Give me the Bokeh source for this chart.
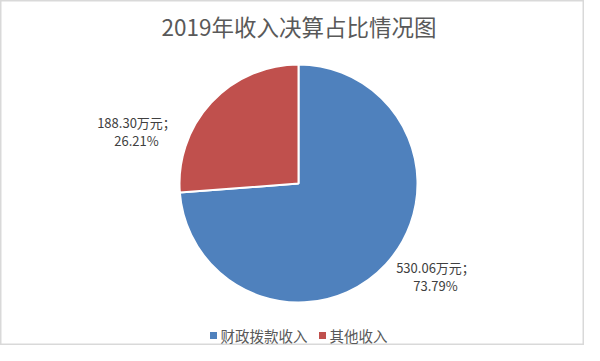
import math
from bokeh.plotting import figure
from bokeh.models import Range1d, ColumnDataSource
from bokeh.core.properties import value
from bokeh.embed import file_html
from bokeh.resources import INLINE

# ---- data ----
title_text = "2019年收入决算占比情况图"
categories = ["财政拨款收入", "其他收入"]
amounts = [530.06, 188.30]
percents = [73.79, 26.21]
unit = "万元；"

# ---- style / layout (pixel positions measured from the top-left) ----
colors = ["#4F81BD", "#C0504D"]
W, H = 584, 345
FONT = "Noto Sans CJK SC"
pie_cx, pie_cy, R = 298, 183, 119
label_pos = [(435, 267), (136, 122)]   # first text line of each slice label
line_gap = 18
legend_y = 335
legend_x = [210, 319]


def fy(y):
    return H - y


p = figure(width=W, height=H, output_backend="svg", toolbar_location=None,
           x_range=Range1d(0, W), y_range=Range1d(0, H), min_border=0)
p.axis.visible = False
p.grid.visible = False
p.outline_line_color = "#D9D9D9"
p.outline_line_width = 2
p.background_fill_color = "white"
p.border_fill_color = "white"

total = sum(amounts)
starts, ends = [], []
a = math.pi / 2
for v in amounts:
    starts.append(a)
    a -= 2 * math.pi * v / total
    ends.append(a)

src = ColumnDataSource(dict(x=[pie_cx] * len(amounts), y=[fy(pie_cy)] * len(amounts),
                            s=starts, e=ends, c=colors))
p.wedge(x="x", y="y", radius=R, start_angle="s", end_angle="e", direction="clock",
        fill_color="c", line_color="white", line_width=2, source=src)

# title
p.text(x=[298.5], y=[fy(25)], text=[title_text], text_font=value(FONT),
       text_font_size=value("22.5px"), text_color="#595959",
       text_align="center", text_baseline="middle")

# data labels
lx, ly, lt = [], [], []
for i, v in enumerate(amounts):
    x0, y0 = label_pos[i]
    lx += [x0, x0]
    ly += [fy(y0), fy(y0 + line_gap)]
    lt += [f"{v:.2f}{unit}", f"{percents[i]:.2f}%"]
p.text(x=lx, y=ly, text=lt, text_font=value(FONT), text_font_size=value("13px"),
       text_color="#404040", text_align="center", text_baseline="middle")

# legend
p.scatter(x=[x + 3 for x in legend_x], y=[fy(legend_y)] * 2, marker="square", size=7,
          fill_color=colors, line_color=None)
p.text(x=[x + 10 for x in legend_x], y=[fy(legend_y)] * 2, text=categories,
       text_font=value(FONT), text_font_size=value("14.5px"), text_color="#595959",
       text_align="left", text_baseline="middle")

open("out.html", "w").write(file_html(p, INLINE))
